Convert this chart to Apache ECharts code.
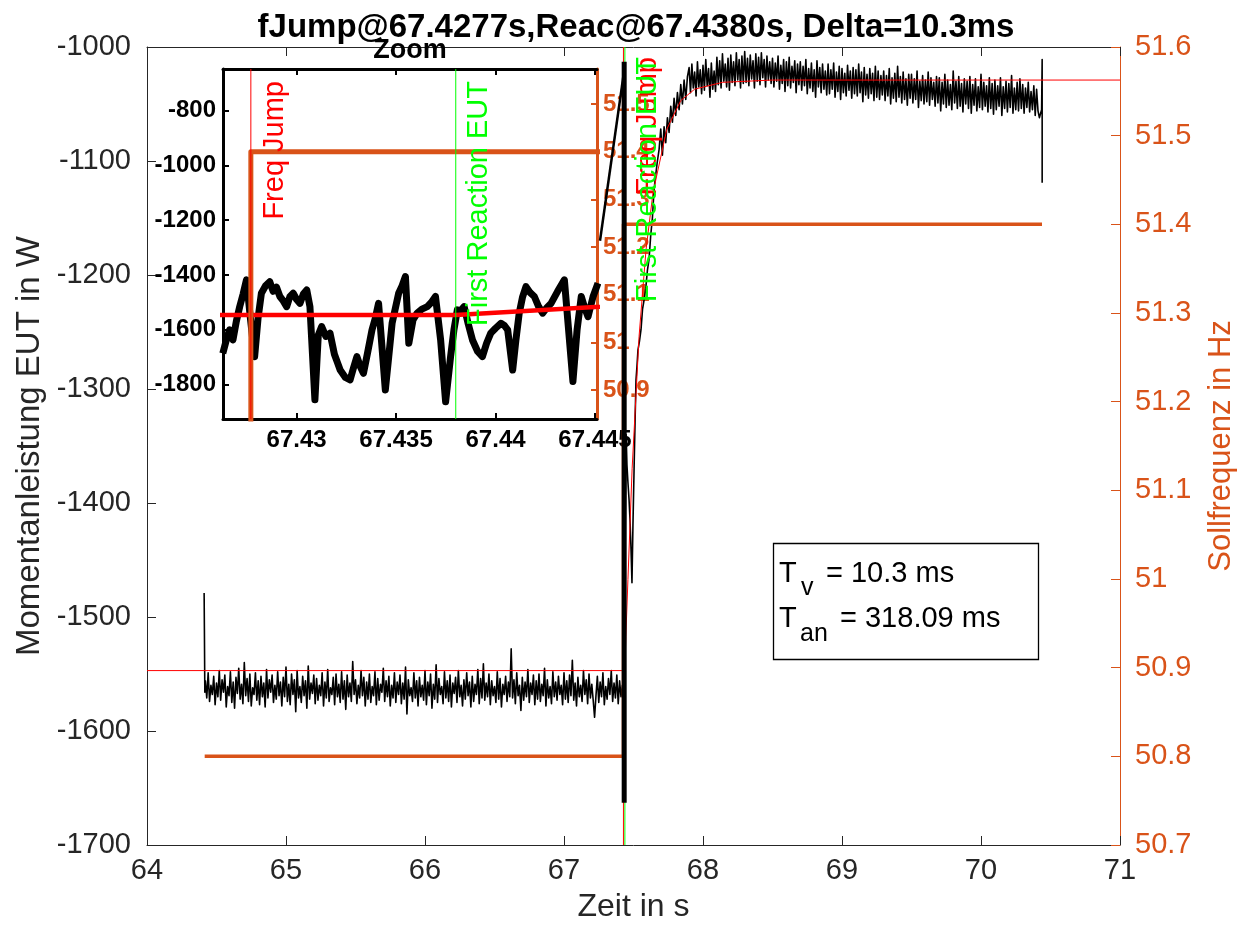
<!DOCTYPE html>
<html><head><meta charset="utf-8">
<script src="https://cdn.jsdelivr.net/npm/echarts@6.0.0/dist/echarts.min.js"></script>
<style>html,body{margin:0;padding:0;background:#fff}#c{width:1250px;height:930px}</style>
</head><body><div id="c"></div>
<script>
// ---------- axes / ticks ----------
const mainXMin = 64, mainXMax = 71, mainXStep = 1;
const powerMin = -1700, powerMax = -1000, powerStep = 100;
const freqMin = 50.7, freqMax = 51.6, freqStep = 0.1;
const zoomXMin = 67.4263, zoomXMax = 67.4451;
const zoomXTicks = [67.43, 67.435, 67.44, 67.445];
const zoomPowerMin = -1927, zoomPowerMax = -647;
const zoomPowerTicks = [-1800, -1600, -1400, -1200, -1000, -800];
const zoomFreqMin = 50.839, zoomFreqMax = 51.574;
const zoomFreqTicks = [50.9, 51, 51.1, 51.2, 51.3, 51.4, 51.5];

// ---------- texts ----------
const titleText = 'fJump@67.4277s,Reac@67.4380s, Delta=10.3ms';
const zoomTitle = 'Zoom';
const xName = 'Zeit in s';
const yNameLeft = 'Momentanleistung EUT in W';
const yNameRight = 'Sollfrequenz in Hz';
const jumpLabel = 'Freq Jump';
const reacLabel = 'First Reaction EUT';
const tvValue = '10.3 ms';
const tanValue = '318.09 ms';

// ---------- events ----------
const fJump = 67.4277;
const tReac = 67.438;

// ---------- frequency setpoint (Hz) ----------
const freqT = [64.415, 67.4277, 67.4277, 70.439];
const freqHz = [50.8, 50.8, 51.4, 51.4];

// ---------- reference power curve (W) ----------
const refT = [64, 67.438, 67.445, 67.46, 67.49, 67.54, 67.59, 67.64, 67.74, 67.84, 67.94, 68.14, 68.5, 71];
const refW = [-1547, -1547, -1517, -1467, -1370, -1254, -1178, -1128, -1072, -1047, -1037, -1031, -1029, -1029];

// ---------- measured power (W) ----------
const spikeT = [64.411, 64.413, 64.416];
const spikeW = [-1479, -1511, -1566];
const sampleStep = 0.01;
const preStart = 64.42;
const preW = [
-1556,-1571,-1549,-1574,-1560,-1568,-1552,-1577,-1558,-1570,-1547,-1573,-1555,-1566,-1551,-1579,-1561,-1569,-1548,-1575,
-1557,-1580,-1553,-1567,-1545,-1572,-1559,-1576,-1540,-1569,-1554,-1574,-1550,-1578,-1562,-1568,-1549,-1573,-1556,-1577,
-1552,-1570,-1558,-1579,-1546,-1571,-1555,-1566,-1551,-1575,-1560,-1572,-1548,-1569,-1557,-1578,-1553,-1570,-1544,-1574,
-1559,-1577,-1550,-1568,-1555,-1583,-1547,-1571,-1561,-1575,-1552,-1569,-1556,-1580,-1543,-1572,-1558,-1567,-1551,-1576,
-1554,-1573,-1560,-1569,-1549,-1578,-1557,-1571,-1546,-1574,-1562,-1568,-1553,-1577,-1550,-1570,-1559,-1575,-1548,-1572,
-1556,-1581,-1551,-1570,-1558,-1574,-1539,-1568,-1555,-1576,-1560,-1571,-1547,-1569,-1553,-1578,-1557,-1572,-1550,-1575,
-1561,-1569,-1548,-1577,-1554,-1573,-1559,-1566,-1545,-1574,-1556,-1570,-1552,-1578,-1560,-1571,-1549,-1575,-1557,-1568,
-1551,-1576,-1558,-1572,-1544,-1585,-1555,-1569,-1562,-1574,-1549,-1571,-1556,-1578,-1553,-1570,-1560,-1573,-1547,-1577,
-1557,-1569,-1550,-1580,-1559,-1572,-1542,-1575,-1554,-1568,-1561,-1576,-1548,-1571,-1556,-1574,-1551,-1579,-1558,-1567,
-1553,-1575,-1547,-1570,-1560,-1578,-1555,-1572,-1549,-1569,-1557,-1579,-1552,-1574,-1559,-1568,-1546,-1576,-1554,-1571,
-1541,-1573,-1558,-1570,-1550,-1577,-1556,-1569,-1561,-1575,-1548,-1572,-1554,-1579,-1559,-1568,-1552,-1574,-1557,-1570,
-1528,-1571,-1555,-1576,-1549,-1569,-1560,-1582,-1553,-1573,-1557,-1570,-1546,-1575,-1558,-1568,-1551,-1577,-1556,-1572,
-1550,-1574,-1559,-1569,-1545,-1578,-1555,-1571,-1561,-1576,-1548,-1570,-1557,-1573,-1552,-1568,-1560,-1577,-1549,-1572,
-1556,-1575,-1551,-1569,-1538,-1573,-1558,-1578,-1553,-1570,-1560,-1574,-1547,-1568,-1555,-1576,-1550,-1571,-1559,-1573,
-1588,-1569,-1552,-1575,-1557,-1570,-1549,-1577,-1561,-1572,-1554,-1568,-1547,-1574,-1558,-1571,-1551,-1576,-1556,-1570,
-1560];
const transT = [67.430,67.436,67.441,67.447,67.453,67.460,67.468,67.475,67.482,67.489,
67.496,67.504,67.511,67.518,67.525,67.532,67.543,67.554,67.565,67.576,
67.588,67.600,67.612,67.624,67.636,67.648,67.660,67.672,67.684,67.696,
67.708,67.720,67.732,67.744,67.756,67.768,67.780,67.792,67.804,67.816,
67.828,67.840,67.852,67.864,67.876,67.888];
const transW = [-1561,-1566,-1420,-1340,-1367,-1382,-1397,-1415,-1440,-1470,
-1420,-1371,-1330,-1292,-1280,-1266,-1258,-1248,-1230,-1222,
-1212,-1196,-1186,-1165,-1150,-1125,-1112,-1100,-1090,-1072,
-1095,-1070,-1084,-1062,-1075,-1052,-1066,-1045,-1060,-1040,
-1055,-1033,-1050,-1029,-1046,-1026];
const postStart = 67.90;
const postW = [
-1018,-1040,-1015,-1036,-1022,-1043,-1013,-1035,-1020,-1041,-1016,-1038,-1011,-1034,-1019,-1044,-1014,-1037,-1021,-1039,
-1009,-1033,-1012,-1036,-1006,-1030,-1015,-1035,-1010,-1038,-1007,-1031,-1013,-1034,-1005,-1029,-1011,-1036,-1008,-1032,
-1004,-1031,-1010,-1034,-1007,-1028,-1012,-1036,-1006,-1030,-1009,-1033,-1005,-1027,-1011,-1035,-1008,-1029,-1013,-1032,
-1010,-1035,-1014,-1030,-1008,-1037,-1016,-1032,-1011,-1039,-1013,-1034,-1009,-1036,-1017,-1031,-1012,-1040,-1015,-1033,
-1013,-1038,-1017,-1034,-1011,-1041,-1019,-1036,-1014,-1039,-1020,-1044,-1012,-1035,-1018,-1040,-1015,-1037,-1021,-1042,
-1015,-1041,-1020,-1037,-1014,-1044,-1022,-1039,-1017,-1046,-1019,-1040,-1023,-1043,-1016,-1038,-1021,-1045,-1018,-1041,
-1020,-1043,-1015,-1040,-1022,-1048,-1018,-1042,-1024,-1045,-1019,-1041,-1023,-1047,-1017,-1044,-1021,-1046,-1025,-1042,
-1021,-1047,-1025,-1043,-1019,-1050,-1027,-1045,-1023,-1048,-1017,-1044,-1026,-1049,-1022,-1046,-1028,-1051,-1024,-1045,
-1024,-1049,-1028,-1046,-1021,-1053,-1030,-1047,-1025,-1050,-1029,-1048,-1022,-1051,-1027,-1046,-1031,-1052,-1026,-1049,
-1027,-1056,-1031,-1050,-1024,-1053,-1029,-1051,-1033,-1055,-1021,-1049,-1030,-1054,-1026,-1052,-1032,-1057,-1028,-1050,
-1030,-1054,-1026,-1058,-1033,-1051,-1028,-1056,-1035,-1053,-1024,-1055,-1031,-1052,-1034,-1057,-1027,-1054,-1032,-1059,
-1029,-1055,-1034,-1052,-1027,-1060,-1035,-1054,-1030,-1057,-1032,-1053,-1025,-1058,-1036,-1055,-1031,-1056,-1028,-1054,
-1033,-1058,-1036,-1053,-1031,-1057,-1039,-1055,-1034,-1060,-1037,-1056,-1062];
const endT = [70.436, 70.44, 70.44];
const endW = [-1055, -1011, -1119];

// thick strokes around the jump (zoom trace leaking out of its box)
const leakT = [67.259, 67.436];
const leakW = [-1170, -1018];
const barT = [67.433, 67.433];
const barW = [-1013, -1663];

// ---------- zoom trace (W) ----------
const zoomT = [67.42629,67.42646,67.42663,67.4268,67.42697,67.42714,67.42731,67.42748,67.42768,67.42789,
67.42806,67.42823,67.42844,67.42865,67.42882,67.42899,67.42916,67.42933,67.4295,67.42966,
67.42983,67.43000,67.43017,67.43034,67.43051,67.43067,67.43092,67.43109,67.43126,67.43147,
67.43168,67.43190,67.43205,67.43219,67.43245,67.43269,67.43286,67.43303,67.43320,67.43336,
67.43358,67.43379,67.43395,67.43412,67.43446,67.43463,67.4348,67.43497,67.43513,67.43530,
67.43547,67.43564,67.43585,67.43606,67.43630,67.43657,67.43678,67.43698,67.43724,67.43749,
67.43774,67.43791,67.43808,67.43825,67.43842,67.43863,67.43884,67.43910,67.43934,67.43955,
67.43976,67.44000,67.44027,67.44044,67.44061,67.44086,67.44102,67.44119,67.44136,67.44153,
67.44174,67.44195,67.44216,67.44237,67.44258,67.44279,67.44312,67.44346,67.44389,67.44410,
67.44431,67.44448,67.44465,67.44490,67.44515];
const zoomW = [-1687,-1640,-1601,-1638,-1570,-1516,-1470,-1418,-1560,-1699,
-1560,-1467,-1440,-1425,-1460,-1445,-1479,-1495,-1516,-1480,
-1467,-1490,-1504,-1470,-1455,-1516,-1857,-1620,-1589,-1625,
-1613,-1690,-1720,-1748,-1775,-1784,-1740,-1699,-1735,-1760,
-1680,-1601,-1560,-1504,-1821,-1700,-1577,-1520,-1467,-1440,
-1406,-1650,-1565,-1540,-1525,-1516,-1500,-1479,-1638,-1864,
-1699,-1600,-1528,-1530,-1516,-1580,-1638,-1680,-1699,-1650,
-1613,-1595,-1577,-1585,-1601,-1748,-1640,-1540,-1480,-1443,
-1465,-1479,-1515,-1540,-1520,-1504,-1460,-1418,-1790,-1600,
-1479,-1520,-1553,-1480,-1430];

// ---------- build ----------
const FONT = '"Liberation Sans", Arial, Helvetica, sans-serif';
const ORANGE = '#D95319', AX = '#262626';
const zip = (a, b) => a.map((v, i) => [v, b[i]]);
const powerPairs = [].concat(
  zip(spikeT, spikeW),
  preW.map((w, i) => [+(preStart + i * sampleStep).toFixed(3), w]),
  zip(transT, transW),
  postW.map((w, i) => [+(postStart + i * sampleStep).toFixed(3), w]),
  zip(endT, endW)
);
const refPairs = zip(refT, refW);
const freqPairs = zip(freqT, freqHz);
const fmt1 = v => String(parseFloat((+v).toFixed(1)));
const fmtInt = v => String(Math.round(v));

const chart = echarts.init(document.getElementById('c'), null, {renderer: 'canvas'});
const lineS = (xi, yi, data, color, width, z) => ({
  type: 'line', xAxisIndex: xi, yAxisIndex: yi, data, showSymbol: false, symbol: 'none',
  progressive: 0, large: false,
  lineStyle: {color, width, cap: 'butt', join: 'round'}, silent: true, z: z || 2, animation: false
});

const option = {
  animation: false,
  backgroundColor: '#fff',
  textStyle: {fontFamily: FONT},
  grid: [
    {left: 147, top: 47, width: 973, height: 798},
    {left: 223, top: 69, width: 374, height: 350, show: true, backgroundColor: '#fff', borderWidth: 0}
  ],
  xAxis: [
    {gridIndex: 0, type: 'value', position: 'bottom', min: mainXMin, max: mainXMax, interval: mainXStep,
     axisLine: {onZero: false, lineStyle: {color: AX, width: 1}},
     axisTick: {inside: true, length: 9, lineStyle: {color: AX}},
     axisLabel: {fontSize: 29, color: AX, margin: 11, fontFamily: FONT, formatter: fmtInt},
     splitLine: {show: false},
     name: xName, nameLocation: 'middle', nameGap: 46,
     nameTextStyle: {fontSize: 32, color: AX, fontFamily: FONT}},
    {gridIndex: 0, type: 'value', position: 'top', min: mainXMin, max: mainXMax, interval: mainXStep,
     axisLine: {onZero: false, lineStyle: {color: AX, width: 1}},
     axisTick: {inside: true, length: 9, lineStyle: {color: AX}},
     axisLabel: {show: false}, splitLine: {show: false}},
    {gridIndex: 1, type: 'value', position: 'bottom', min: zoomXMin, max: zoomXMax,
     axisLine: {onZero: false, lineStyle: {color: '#000', width: 3}},
     axisTick: {inside: true, length: 6, customValues: zoomXTicks, lineStyle: {color: '#000', width: 2}},
     axisLabel: {customValues: zoomXTicks, fontSize: 24, fontWeight: 'bold', color: '#000', margin: 9,
                 fontFamily: FONT, formatter: v => String(+(+v).toFixed(3))},
     splitLine: {show: false}},
    {gridIndex: 1, type: 'value', position: 'top', min: zoomXMin, max: zoomXMax,
     axisLine: {onZero: false, lineStyle: {color: '#000', width: 3}},
     axisTick: {inside: true, length: 6, customValues: zoomXTicks, lineStyle: {color: '#000', width: 2}},
     axisLabel: {show: false}, splitLine: {show: false}}
  ],
  yAxis: [
    {gridIndex: 0, type: 'value', position: 'left', min: powerMin, max: powerMax, interval: powerStep,
     axisLine: {show: true, onZero: false, lineStyle: {color: AX, width: 1}},
     axisTick: {show: true, inside: true, length: 9, lineStyle: {color: AX}},
     axisLabel: {fontSize: 29, color: AX, margin: 16, fontFamily: FONT, formatter: fmtInt},
     splitLine: {show: false},
     name: yNameLeft, nameLocation: 'middle', nameGap: 99, nameRotate: 90,
     nameTextStyle: {fontSize: 33, color: AX, fontFamily: FONT}},
    {gridIndex: 0, type: 'value', position: 'right', min: freqMin, max: freqMax, interval: freqStep,
     axisLine: {show: true, onZero: false, lineStyle: {color: ORANGE, width: 1}},
     axisTick: {show: true, inside: true, length: 9, lineStyle: {color: ORANGE}},
     axisLabel: {fontSize: 29, color: ORANGE, margin: 15, fontFamily: FONT, formatter: fmt1},
     splitLine: {show: false},
     name: yNameRight, nameLocation: 'middle', nameGap: 86, nameRotate: 90,
     nameTextStyle: {fontSize: 31, color: ORANGE, fontFamily: FONT}},
    {gridIndex: 1, type: 'value', position: 'left', min: zoomPowerMin, max: zoomPowerMax,
     axisLine: {show: true, onZero: false, lineStyle: {color: '#000', width: 3}},
     axisTick: {show: true, inside: true, length: 6, customValues: zoomPowerTicks, lineStyle: {color: '#000', width: 2}},
     axisLabel: {customValues: zoomPowerTicks, fontSize: 24, fontWeight: 'bold', color: '#000', margin: 7,
                 fontFamily: FONT, formatter: fmtInt},
     splitLine: {show: false}},
    {gridIndex: 1, type: 'value', position: 'right', min: zoomFreqMin, max: zoomFreqMax,
     axisLine: {show: true, onZero: false, lineStyle: {color: ORANGE, width: 3}},
     axisTick: {show: true, inside: true, length: 6, customValues: zoomFreqTicks, lineStyle: {color: ORANGE, width: 2}},
     axisLabel: {customValues: zoomFreqTicks, fontSize: 24, fontWeight: 'bold', color: ORANGE, margin: 6,
                 fontFamily: FONT, formatter: fmt1},
     splitLine: {show: false}}
  ],
  series: [
    // main
    lineS(0, 0, powerPairs, '#000', 1.6, 2),
    lineS(0, 0, refPairs, '#ff0000', 1, 3),
    lineS(0, 1, freqPairs, ORANGE, 3.5, 4),
    lineS(0, 0, [[fJump, powerMin], [fJump, powerMax]], '#ff0000', 1, 5),
    lineS(0, 0, [[tReac, powerMin], [tReac, powerMax]], '#00ff00', 1, 5),
    lineS(0, 0, zip(leakT, leakW), '#000', 2.5, 6),
    lineS(0, 0, zip(barT, barW), '#000', 5, 6),
    // zoom
    lineS(2, 2, zip(zoomT, zoomW), '#000', 7, 7),
    lineS(2, 2, refPairs, '#ff0000', 4.5, 8),
    lineS(2, 3, freqPairs, ORANGE, 5, 9),
    lineS(2, 2, [[fJump, zoomPowerMin], [fJump, zoomPowerMax]], '#ff0000', 1, 10),
    lineS(2, 2, [[tReac, zoomPowerMin], [tReac, zoomPowerMax]], '#00ff00', 1, 10)
  ]
};
chart.setOption(option);

const px = (xi, yi, x, y) => chart.convertToPixel({xAxisIndex: xi, yAxisIndex: yi}, [x, y]);
const rotText = (x, y, text, color) => ({
  type: 'text', x, y, rotation: Math.PI / 2, z: 20, silent: true,
  style: {text, fill: color, font: '29px ' + FONT, align: 'right', verticalAlign: 'top',
          textAlign: 'right', textVerticalAlign: 'top'}
});
const plainText = (x, y, text, size, weight, align) => ({
  type: 'text', x, y, z: 30, silent: true,
  style: {text, fill: '#000', font: (weight || 'normal') + ' ' + size + 'px ' + FONT,
          align: align || 'left', verticalAlign: 'middle', textAlign: align || 'left', textVerticalAlign: 'middle'}
});

const mJ = px(0, 0, fJump, powerMax), mR = px(0, 0, tReac, powerMax);
const zJ = px(2, 2, fJump, zoomPowerMax), zR = px(2, 2, tReac, zoomPowerMax);
const zL = px(2, 2, zoomXMin, zoomPowerMax), zRt = px(2, 2, zoomXMax, zoomPowerMax);

chart.setOption({
  graphic: [
    rotText(mJ[0] + 10, mJ[1] + 10, jumpLabel, '#ff0000'),
    rotText(mR[0] + 9, mR[1] + 10, reacLabel, '#00ff00'),
    rotText(zJ[0] + 10, zJ[1] + 12, jumpLabel, '#ff0000'),
    rotText(zR[0] + 9, zR[1] + 12, reacLabel, '#00ff00'),
    plainText(636, 28, titleText, 33, 'bold', 'center'),
    plainText((zL[0] + zRt[0]) / 2, 51, zoomTitle, 27, 'bold', 'center'),
    {type: 'rect', z: 25, silent: true, shape: {x: 773.5, y: 543.5, width: 265, height: 116},
     style: {fill: '#fff', stroke: '#000', lineWidth: 1.3}},
    plainText(779, 574, 'T', 29),
    plainText(801, 588, 'v', 25),
    plainText(826, 574, '= ' + tvValue, 29),
    plainText(779, 619, 'T', 29),
    plainText(800, 634, 'an', 25),
    plainText(840, 619, '= ' + tanValue, 29)
  ]
});
</script></body></html>
